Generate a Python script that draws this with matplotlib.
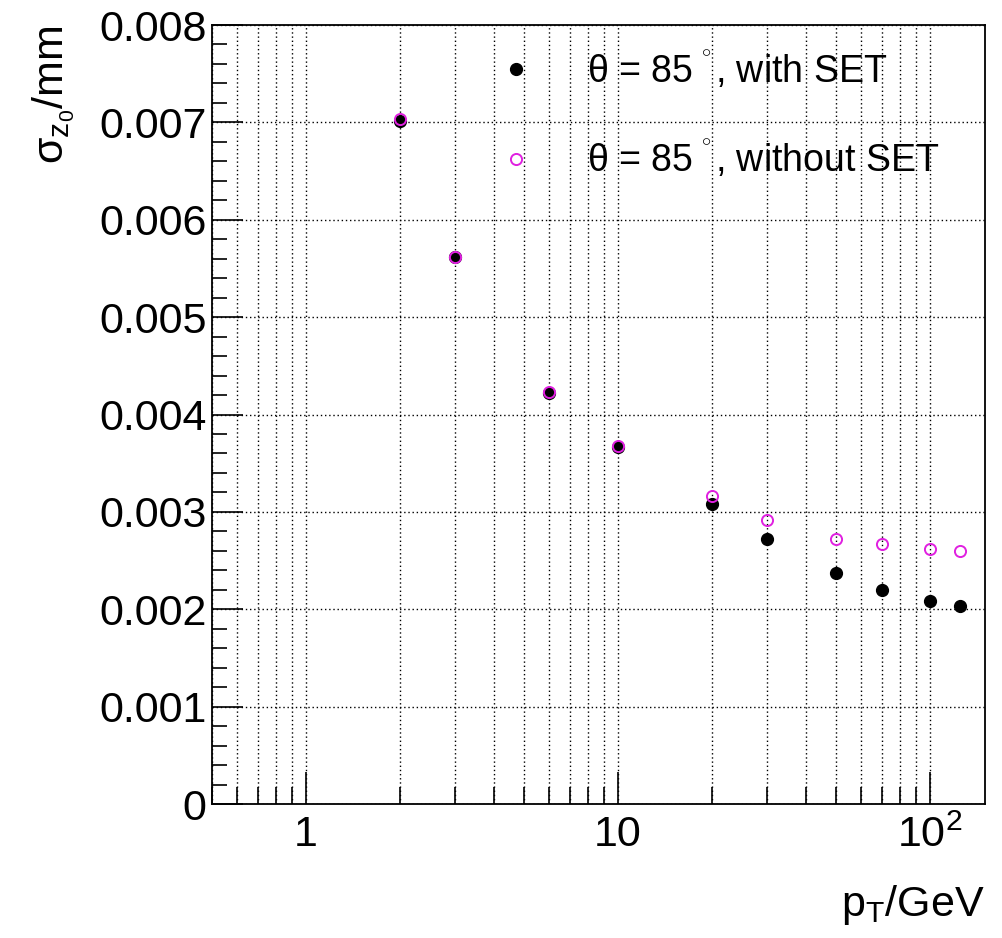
import matplotlib
matplotlib.use("Agg")
import matplotlib.pyplot as plt
from matplotlib.ticker import FixedLocator, FuncFormatter, NullFormatter, MultipleLocator, LogLocator

plt.rcParams['font.family'] = ['Liberation Sans', 'DejaVu Sans']
plt.rcParams['mathtext.fontset'] = 'custom'
plt.rcParams['mathtext.rm'] = 'Liberation Sans'
plt.rcParams['mathtext.it'] = 'Liberation Sans:italic'

# pT points (GeV) and z0 resolution (mm)
pt = [2, 3, 6, 10, 20, 30, 50, 70, 100, 125]
sigma_with_set = [0.00701, 0.00562, 0.00422, 0.00367, 0.00308, 0.00272, 0.00237, 0.00220, 0.00208, 0.00203]
sigma_without_set = [0.00703, 0.00562, 0.00423, 0.00368, 0.003165, 0.00292, 0.00272, 0.00267, 0.00262, 0.00260]

label_with = "θ = 85$^{^{\\ \\circ}}$, with SET"
label_without = "θ = 85$^{^{\\ \\circ}}$, without SET"

fig = plt.figure(figsize=(10.03, 9.38), dpi=100)
ax = fig.add_axes([212 / 1003, 1 - 804 / 938, (985 - 212) / 1003, (804 - 25) / 938])

ax.plot(pt, sigma_with_set, linestyle="none", marker="o", markersize=8.5,
        color="black", label=label_with)
ax.plot(pt, sigma_without_set, linestyle="none", marker="o", markersize=8,
        markerfacecolor="none", markeredgecolor="#e020e0", markeredgewidth=1.4,
        label=label_without)

ax.set_xscale("log")
ax.set_xlim(0.5, 150)
ax.set_ylim(0, 0.008)

ax.xaxis.set_major_locator(FixedLocator([1, 10, 100]))
ax.xaxis.set_major_formatter(FuncFormatter(
    lambda v, p: {1: "1", 10: "10", 100: "$\\mathrm{10^{2}}$"}.get(int(round(v)), "")))
ax.xaxis.set_minor_locator(LogLocator(base=10, subs=range(2, 10)))
ax.xaxis.set_minor_formatter(NullFormatter())
ax.yaxis.set_major_locator(MultipleLocator(0.001))
ax.yaxis.set_minor_locator(MultipleLocator(0.0002))
ax.yaxis.set_major_formatter(FuncFormatter(lambda v, p: "0" if abs(v) < 1e-9 else "%.3f" % v))

ax.tick_params(which="both", direction="in", top=False, right=False, labelsize=31, width=1.2)
ax.tick_params(axis="x", which="major", length=23, pad=8)
ax.tick_params(axis="x", which="minor", length=12)
ax.tick_params(axis="y", which="major", length=22, pad=4)
ax.tick_params(axis="y", which="minor", length=11)

ax.grid(True, axis="x", which="both", linestyle=(0, (1, 2)), color="black", linewidth=1)
ax.grid(True, axis="y", which="major", linestyle=(0, (1, 2)), color="black", linewidth=1)
ax.set_axisbelow(True)
for s in ax.spines.values():
    s.set_linewidth(1.3)

ax.set_xlabel("p$_{\\mathrm{T}}$/GeV", fontsize=31, loc="right", labelpad=20)
ax.set_ylabel("σ$_{\\mathrm{z_0}}$/mm", fontsize=31, loc="top", labelpad=16)

ax.legend(loc="upper left", bbox_to_anchor=(0.33, 1.008), frameon=False, fontsize=27,
          handlelength=1.0, handletextpad=1.4, labelspacing=1.28, borderpad=0.3)

fig.savefig("out.png", dpi=100)
